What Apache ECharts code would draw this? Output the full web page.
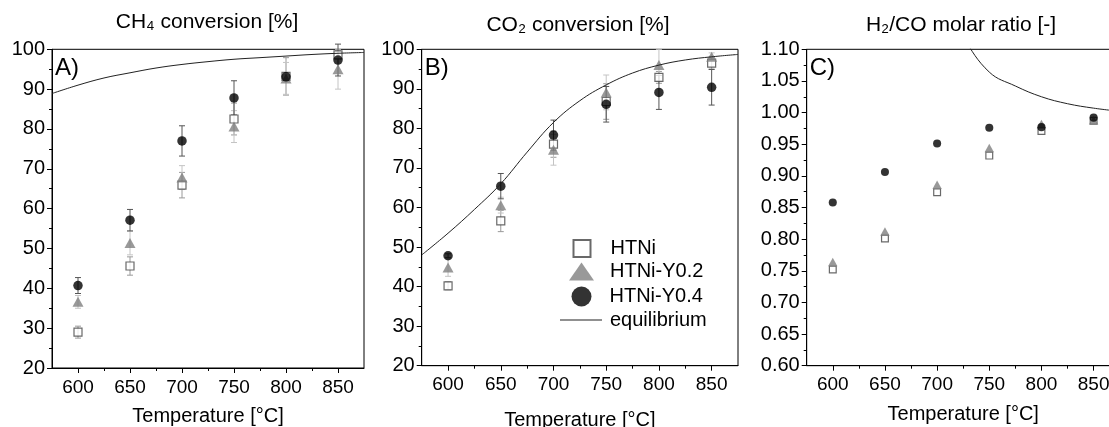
<!DOCTYPE html>
<html>
<head>
<meta charset="utf-8">
<script src="https://cdn.jsdelivr.net/npm/echarts@6/dist/echarts.min.js"></script>
<style>
html,body{margin:0;padding:0;background:#fff;}
#chart{width:1109px;height:427px;}
</style>
</head>
<body>
<div id="chart"></div>
<script>
// ---- data ----
const temps = [600, 650, 700, 750, 800, 850];
const xTickValues = [600, 650, 700, 750, 800, 850];
const xMinorTickValues = [625, 675, 725, 775, 825];

const ch4HTNi = [29.0, 45.6, 65.9, 82.5, 93.2, 98.6];
const ch4Y02  = [36.6, 51.4, 67.8, 80.6, 92.7, 95.0];
const ch4Y04  = [40.7, 57.1, 77.0, 87.8, 93.1, 97.3];
const ch4HTNiErr = [1.5, 2.3, 3.2, 4.0, 4.7, 1.0];
const ch4Y02Err  = [1.6, 3.0, 3.0, 4.0, 4.0, 5.0];
const ch4Y04Err  = [2.0, 2.7, 3.8, 4.3, 0.5, 4.0];

const co2HTNi = [40.2, 56.6, 76.0, 86.8, 92.9, 96.5];
const co2Y02  = [44.8, 60.6, 74.6, 89.1, 96.0, 98.1];
const co2Y04  = [47.8, 65.4, 78.3, 86.1, 89.1, 90.4];
const co2HTNiErr = [1.0, 2.7, 3.3, 4.5, 1.5, 1.5];
const co2Y02Err  = [2.2, 2.0, 3.9, 4.4, 4.0, 1.0];
const co2Y04Err  = [0.5, 3.2, 3.8, 4.5, 4.3, 4.5];

const ratioHTNi = [0.752, 0.801, 0.874, 0.932, 0.971, 0.987];
const ratioY02  = [0.764, 0.812, 0.886, 0.944, 0.982, 0.988];
const ratioY04  = [0.858, 0.906, 0.951, 0.976, 0.977, 0.992];

const eqTemps = [575, 600, 625, 650, 675, 700, 725, 750, 775, 800, 825, 850, 875];
const eqCH4 = [88.9, 91.0, 92.8, 94.1, 95.3, 96.2, 96.9, 97.5, 97.9, 98.3, 98.7, 99.0, 99.2];
const eqCO2 = [48.0, 53.5, 59.5, 66.0, 74.0, 81.5, 87.0, 91.0, 94.0, 96.0, 97.3, 98.1, 98.7];
const eqRatioTemps = [700, 725, 750, 775, 800, 825, 850, 875];
const eqRatio = [1.20, 1.12, 1.064, 1.042, 1.025, 1.014, 1.007, 1.002];

const panelTitles = ['CH\u2084 conversion [%]', 'CO\u2082 conversion [%]', 'H\u2082/CO molar ratio [-]'];
const panelLetters = ['A)', 'B)', 'C)'];
const xName = 'Temperature [\u00B0C]';
const seriesNames = ['HTNi', 'HTNi-Y0.2', 'HTNi-Y0.4', 'equilibrium'];

// ---- layout ----
const FONT = 'Liberation Sans, Arial, sans-serif';
const grids = [
  {left: 52, top: 49.3, width: 312, height: 318.7},
  {left: 421.7, top: 49.3, width: 316.3, height: 316.4},
  {left: 806.7, top: 49.3, width: 313, height: 316.4}
];
const yCfg = [
  {min: 20, max: 100, interval: 10, fmt: v => String(v)},
  {min: 20, max: 100, interval: 10, fmt: v => String(v)},
  {min: 0.6, max: 1.1, interval: 0.05, fmt: v => v.toFixed(2)}
];
const nameGaps = [38, 45, 39];
const titleX = [207, 578, 961];
const titleY = [22, 25, 25];

const zip = (xs, ys) => xs.map((x, i) => [x, ys[i]]);

const xAxes = [], yAxes = [];
grids.forEach((g, i) => {
  xAxes.push({
    type: 'value', gridIndex: i, position: 'bottom', min: 575, max: 875,
    name: xName, nameLocation: 'middle', nameGap: nameGaps[i],
    nameTextStyle: {fontSize: 20, color: '#000', fontFamily: FONT},
    axisLine: {show: true, onZero: false, lineStyle: {color: '#000', width: 1}},
    axisTick: {show: true, length: 5, customValues: xTickValues, lineStyle: {color: '#000'}},
    axisLabel: {show: true, customValues: xTickValues, fontSize: 19, color: '#000', margin: 10, fontFamily: FONT},
    splitLine: {show: false}
  });
  xAxes.push({
    type: 'value', gridIndex: i, position: 'bottom', min: 575, max: 875,
    axisLine: {show: false, onZero: false},
    axisTick: {show: true, length: 3, customValues: xMinorTickValues, lineStyle: {color: '#000'}},
    axisLabel: {show: false},
    splitLine: {show: false}
  });
  const yc = yCfg[i];
  yAxes.push({
    type: 'value', gridIndex: i, min: yc.min, max: yc.max, interval: yc.interval,
    axisLine: {show: true, onZero: false, lineStyle: {color: '#000', width: 1}},
    axisTick: {show: true, length: 5, lineStyle: {color: '#000'}},
    minorTick: {show: true, splitNumber: 2, length: 3, lineStyle: {color: '#000'}},
    axisLabel: {fontSize: 20, color: '#000', margin: 7, fontFamily: FONT, formatter: yc.fmt},
    splitLine: {show: false}
  });
});

function errSeries(gi, vals, errs, color) {
  return {
    type: 'custom', xAxisIndex: gi * 2, yAxisIndex: gi, silent: true, z: 1,
    data: temps.map((t, i) => [t, vals[i] - errs[i], vals[i] + errs[i]]),
    encode: {x: 0, y: [1, 2]},
    renderItem: function (params, api) {
      const x = api.value(0);
      const lo = api.coord([x, api.value(1)]);
      const hi = api.coord([x, api.value(2)]);
      const w = 3;
      const st = {stroke: color, lineWidth: 1};
      return {type: 'group', children: [
        {type: 'line', shape: {x1: lo[0], y1: lo[1], x2: hi[0], y2: hi[1]}, style: st},
        {type: 'line', shape: {x1: lo[0] - w, y1: lo[1], x2: lo[0] + w, y2: lo[1]}, style: st},
        {type: 'line', shape: {x1: hi[0] - w, y1: hi[1], x2: hi[0] + w, y2: hi[1]}, style: st}
      ]};
    }
  };
}

function markerSeries(gi, data, big) {
  const s = big ? 1 : 0.85;
  return [
    {name: 'HTNi', type: 'scatter', xAxisIndex: gi * 2, yAxisIndex: gi, z: 3,
     symbol: 'rect', symbolSize: 8 * s,
     itemStyle: {color: '#fff', borderColor: '#444', borderWidth: 1.2},
     data: zip(temps, data[0])},
    {name: 'HTNi-Y0.2', type: 'scatter', xAxisIndex: gi * 2, yAxisIndex: gi, z: 4,
     symbol: 'triangle', symbolSize: [11 * s, 10 * s],
     itemStyle: {color: '#808080'},
     data: zip(temps, data[1])},
    {name: 'HTNi-Y0.4', type: 'scatter', xAxisIndex: gi * 2, yAxisIndex: gi, z: 5,
     symbol: 'circle', symbolSize: 9.5 * s,
     itemStyle: {color: '#000'},
     data: zip(temps, data[2])}
  ];
}

function eqSeries(gi, xs, ys) {
  return {name: 'equilibrium', type: 'line', xAxisIndex: gi * 2, yAxisIndex: gi, z: 6,
    smooth: 0.4, symbol: 'none', clip: true,
    lineStyle: {color: '#222', width: 1},
    itemStyle: {color: '#222'},
    data: zip(xs, ys)};
}

const series = [
  errSeries(0, ch4HTNi, ch4HTNiErr, '#9a9a9a'),
  errSeries(0, ch4Y02, ch4Y02Err, '#c4c4c4'),
  errSeries(0, ch4Y04, ch4Y04Err, '#555'),
  errSeries(1, co2HTNi, co2HTNiErr, '#9a9a9a'),
  errSeries(1, co2Y02, co2Y02Err, '#c4c4c4'),
  errSeries(1, co2Y04, co2Y04Err, '#555'),
  ...markerSeries(0, [ch4HTNi, ch4Y02, ch4Y04], true),
  ...markerSeries(1, [co2HTNi, co2Y02, co2Y04], true),
  ...markerSeries(2, [ratioHTNi, ratioY02, ratioY04], false),
  eqSeries(0, eqTemps, eqCH4),
  eqSeries(1, eqTemps, eqCO2),
  eqSeries(2, eqRatioTemps, eqRatio)
];

const legendBase = {orient: 'vertical', selectedMode: false, padding: 0,
  textStyle: {fontSize: 20, color: '#000', fontFamily: FONT}};
const legends = [
  Object.assign({}, legendBase, {data: [seriesNames[0]], left: 572.5, top: 238.5, itemWidth: 17, itemHeight: 17,
    textStyle: Object.assign({}, legendBase.textStyle, {padding: [0, 0, 0, 15]})}),
  Object.assign({}, legendBase, {data: [seriesNames[1]], left: 569, top: 261.5, itemWidth: 25, itemHeight: 18,
    textStyle: Object.assign({}, legendBase.textStyle, {padding: [0, 0, 0, 11]})}),
  Object.assign({}, legendBase, {data: [seriesNames[2]], left: 571.5, top: 286.5, itemWidth: 20, itemHeight: 20,
    textStyle: Object.assign({}, legendBase.textStyle, {padding: [0, 0, 0, 13]})}),
  Object.assign({}, legendBase, {data: [{name: seriesNames[3], icon: 'rect'}], left: 560, top: 310, itemWidth: 42, itemHeight: 1,
    textStyle: Object.assign({}, legendBase.textStyle, {padding: [0, 0, 0, 3]})})
];

const graphics = [];
panelTitles.forEach((t, i) => {
  graphics.push({type: 'text', x: titleX[i], y: titleY[i],
    style: {text: t, font: '21px ' + FONT, fill: '#000', textAlign: 'center', textVerticalAlign: 'middle'}});
  graphics.push({type: 'text', x: grids[i].left + 3, y: grids[i].top + 19,
    style: {text: panelLetters[i], font: '24px ' + FONT, fill: '#000', textAlign: 'left', textVerticalAlign: 'middle'}});
});

const option = {
  animation: false,
  backgroundColor: '#fff',
  textStyle: {fontFamily: FONT},
  grid: grids.map(g => Object.assign({show: true, borderColor: '#000', borderWidth: 1, backgroundColor: 'transparent',
    containLabel: false, outerBoundsMode: 'none'}, g)),
  xAxis: xAxes,
  yAxis: yAxes,
  legend: legends,
  graphic: graphics,
  series: series
};

const chart = echarts.init(document.getElementById('chart'), null, {renderer: 'canvas'});
chart.setOption(option);
</script>
</body>
</html>
